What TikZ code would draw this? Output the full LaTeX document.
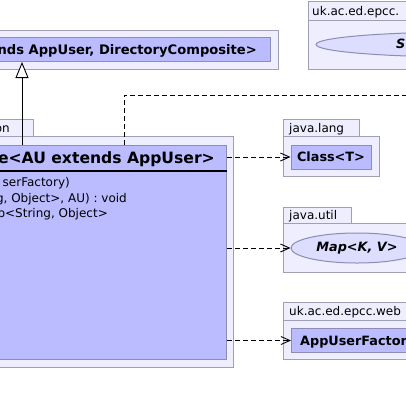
\documentclass[tikz,border=0pt]{standalone}
\usepackage{fontspec}
\setmainfont{DejaVu Sans}
\usetikzlibrary{arrows.meta, shapes.geometric}

\definecolor{pkgfill}{HTML}{EEEEFF}
\definecolor{pkgline}{HTML}{A0A0B4}
\definecolor{clsfill}{HTML}{BBBBFF}
\definecolor{clsline}{HTML}{8C8CB4}
\definecolor{ifcfill}{HTML}{DDDDFF}

\tikzset{
  pkg/.style={fill=pkgfill, draw=pkgline, line width=1pt},
  clsbox/.style={fill=clsfill, draw=clsline, line width=1pt, inner sep=0pt},
  iface/.style={ellipse, fill=ifcfill, draw=clsline, line width=1pt, inner sep=0pt},
  lbl/.style={inner sep=0pt, font=\fontsize{12}{14}\selectfont},
  bold/.style={inner sep=0pt, font=\fontsize{12.8}{15}\selectfont\bfseries},
  boldit/.style={inner sep=0pt, font=\fontsize{12.8}{15}\selectfont\bfseries\itshape},
  dashline/.style={dash pattern=on 5pt off 3pt, line width=0.9pt},
  dep/.style={dashline, -{Straight Barb[length=9pt,width=8pt]}},
  inh/.style={line width=0.9pt, -{Triangle[open, length=16pt, width=13pt, fill=white]}}
}

\begin{document}
\begin{tikzpicture}[x=1pt, y=-1pt]
  \useasboundingbox (0,0) rectangle (406,405);
  \clip (0,0) rectangle (406,405);

  % packages
  \draw[pkg] (-100,30) rectangle (278,69);
  \draw[pkg] (-100,119) rectangle (33,136);
  \draw[pkg] (-100,136) rectangle (233,367);
  \draw[pkg] (308,1) rectangle (500,20);
  \draw[pkg] (308,20) rectangle (500,69);
  \draw[pkg] (283,119) rectangle (359,136);
  \draw[pkg] (283,136) rectangle (379,176);
  \draw[pkg] (283,207) rectangle (351,223);
  \draw[pkg] (283,223) rectangle (440,272);
  \draw[pkg] (283,302) rectangle (500,320);
  \draw[pkg] (283,320) rectangle (500,359);

  % package names
  \node[lbl, anchor=base east] (pkgmain) at (10,132) {on};
  \node[lbl, anchor=base west] (pkgsvc) at (312,15) {uk.ac.ed.epcc.};
  \node[lbl, anchor=base west] (pkglang) at (289,132) {java.lang};
  \node[lbl, anchor=base west] (pkgutil) at (289,219) {java.util};
  \node[lbl, anchor=base west] (pkgweb) at (289,315) {uk.ac.ed.epcc.web};

  % classes
  \node[clsbox, anchor=north west, minimum width=370pt, minimum height=24pt] (dir) at (-100,37) {};
  \node[bold, font=\fontsize{13.1}{15}\selectfont\bfseries, anchor=base east] (dirname) at (257,54) {nds AppUser, DirectoryComposite>};

  \node[clsbox, anchor=north west, minimum width=326pt, minimum height=214pt] (cls) at (-100,145) {};
  \node[inner sep=0pt, font=\fontsize{15.6}{18}\selectfont\bfseries, anchor=base east] (clsname) at (215,163) {e<AU extends AppUser>};
  \draw[line width=2pt] (cls.west |- 0,171) -- (cls.east |- 0,171);
  \node[lbl, anchor=base east] (op1) at (70,186) {serFactory)};
  \node[lbl, anchor=base east] (op2) at (127,202) {g, Object>, AU) : void};
  \node[lbl, anchor=base east] (op3) at (108,217) {p<String, Object>};

  \node[clsbox, bold, minimum width=80pt, minimum height=24pt] (clsT) at (331,157) {Class<T>};
  \node[iface, boldit, minimum width=132pt, minimum height=30pt] (map) at (357,248) {Map<K, V>};
  \node[clsbox, anchor=north west, minimum width=209pt, minimum height=24pt] (auf) at (291,328) {};
  \node[bold, anchor=base west] (aufname) at (300,345) {AppUserFactor};
  \node[iface, minimum width=300pt, minimum height=25pt] (svc) at (466,44.5) {};
  \node[boldit, anchor=base west] (svcname) at (396,48) {S};

  % connectors
  \coordinate (inhfoot) at (22,145);
  \draw[inh] (inhfoot) -- (inhfoot |- dir.south);
  \coordinate (depfoot) at (124,145);
  \coordinate (depend) at (410,95);
  \draw[dashline] (depfoot) |- (depend);
  \draw[dep] (cls.east |- clsT.west) -- (clsT.west);
  \draw[dep] (cls.east |- map.west) -- (map.west);
  \draw[dep] (cls.east |- auf.west) -- (auf.west);
\end{tikzpicture}
\end{document}
